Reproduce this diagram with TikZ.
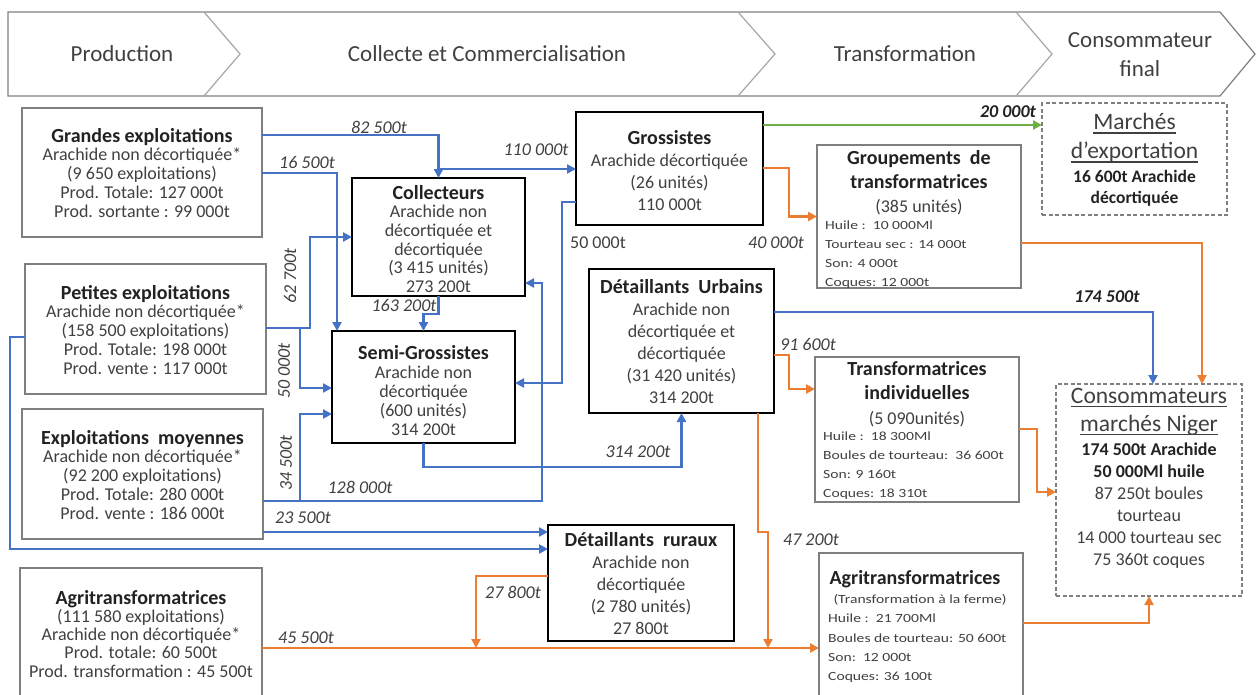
\documentclass[tikz,border=0pt]{standalone}
\usepackage{fontspec}
\setmainfont{Carlito}
\newfontfamily\widesmall{Carlito}[FakeStretch=1.25]
\usetikzlibrary{arrows.meta}
\definecolor{flowblue}{HTML}{4472C4}
\definecolor{floworange}{HTML}{ED7D31}
\definecolor{flowgreen}{HTML}{70AD47}
\definecolor{framegray}{HTML}{7F7F7F}
\definecolor{chevgray}{HTML}{A6A6A6}
\definecolor{txtgray}{HTML}{404040}
\definecolor{ttlgray}{HTML}{222222}
\newcommand\ttl{\fontsize{20}{21}\selectfont\bfseries\color{ttlgray}}
\newcommand\thickul[1]{\setbox0=\hbox{#1}\rlap{\rule[-4pt]{\wd0}{1.8pt}}\box0}
\begin{document}
\begin{tikzpicture}[x=1pt,y=-1pt,
  graybox/.style={draw=framegray, line width=1.5pt, inner sep=0pt, outer sep=0pt},
  blackbox/.style={draw=black, line width=2.6pt, inner sep=0pt, outer sep=0pt},
  dashbox/.style={draw=framegray, line width=1.2pt, dash pattern=on 4pt off 2.5pt, inner sep=0pt, outer sep=0pt},
  boxtext/.style={anchor=north, inner sep=0pt, align=center, text=txtgray, font=\fontsize{18}{18.7}\selectfont},
  listtext/.style={anchor=north west, inner sep=0pt, align=left, text=txtgray, font=\widesmall\fontsize{12.5}{18.8}\selectfont},
  headtext/.style={inner sep=0pt, align=center, text=txtgray, font=\fontsize{23}{29}\selectfont},
  flowlbl/.style={inner sep=0pt, text=txtgray, font=\fontsize{18}{20}\selectfont\itshape},
  flow/.style={line width=2.8pt, -{Triangle[length=9pt,width=9pt]}},
  bflow/.style={flow, draw=flowblue},
  oflow/.style={flow, draw=floworange},
  gflow/.style={flow, draw=flowgreen}
]
\useasboundingbox (0,0) rectangle (1258,694);
\clip (0,0) rectangle (1258,694);

% value-chain header band
\draw[framegray, line width=1.2pt] (8,12) -- (1220,12) -- (1255,54) -- (1220,96) -- (8,96) -- cycle;
\draw[chevgray, line width=1.2pt] (204,12) -- (240,54) -- (204,96);
\draw[chevgray, line width=1.2pt] (738,12) -- (775,54) -- (738,96);
\draw[chevgray, line width=1.2pt] (1016,12) -- (1052,54) -- (1016,96);
\node[headtext] (h1) at (122,54) {Production};
\node[headtext] (h2) at (487,54) {Collecte et Commercialisation};
\node[headtext] (h3) at (905,54) {Transformation};
\node[headtext] (h4) at (1140,55) {Consommateur\\final};

% producers
\node[graybox, minimum width=240pt, minimum height=129pt] (ge) at (142,172.5) {};
\node[boxtext] (ge-t) at (142,128) {{\ttl Grandes exploitations}\\Arachide non décortiquée*\\(9 650 exploitations)\\Prod. Totale: 127 000t\\Prod. sortante : 99 000t};
\node[graybox, minimum width=241pt, minimum height=130pt] (pe) at (145.5,329) {};
\node[boxtext] (pe-t) at (145.5,285) {{\ttl Petites exploitations}\\Arachide non décortiquée*\\(158 500 exploitations)\\Prod. Totale: 198 000t\\Prod. vente : 117 000t};
\node[graybox, minimum width=241pt, minimum height=130pt] (em) at (142.5,474) {};
\node[boxtext] (em-t) at (142.5,430) {{\ttl Exploitations\ \ moyennes}\\Arachide non décortiquée*\\(92 200 exploitations)\\Prod. Totale: 280 000t\\Prod. vente : 186 000t};
\node[graybox, minimum width=242pt, minimum height=152pt] (agl) at (141,644) {};
\node[boxtext, font=\fontsize{18}{18.2}\selectfont] (agl-t) at (141,590) {{\ttl Agritransformatrices}\\(111 580 exploitations)\\Arachide non décortiquée*\\Prod. totale: 60 500t\\Prod. transformation : 45 500t};

% collection and trade
\node[blackbox, minimum width=173pt, minimum height=118pt] (coll) at (438.5,237) {};
\node[boxtext, font=\fontsize{18}{18.6}\selectfont] (coll-t) at (438.5,185) {{\ttl Collecteurs}\\Arachide non\\décortiquée et\\décortiquée\\(3 415 unités)\\273 200t};
\node[blackbox, minimum width=183pt, minimum height=112pt] (sg) at (423.5,387) {};
\node[boxtext, font=\fontsize{18}{19}\selectfont] (sg-t) at (423.5,345) {{\ttl Semi-Grossistes}\\Arachide non\\décortiquée\\(600 unités)\\314 200t};
\node[blackbox, minimum width=187pt, minimum height=113pt] (gross) at (669.5,168.5) {};
\node[boxtext, font=\fontsize{18}{22}\selectfont] (gross-t) at (669.5,130) {{\ttl Grossistes}\\Arachide décortiquée\\(26 unités)\\110 000t};
\node[blackbox, minimum width=185pt, minimum height=144pt] (du) at (681.5,341) {};
\node[boxtext, font=\fontsize{18}{22}\selectfont] (du-t) at (681.5,279) {{\ttl Détaillants\ \ Urbains}\\Arachide non\\décortiquée et\\décortiquée\\(31 420 unités)\\314 200t};
\node[blackbox, minimum width=186pt, minimum height=116pt] (dr) at (641,583) {};
\node[boxtext, font=\fontsize{18}{22}\selectfont] (dr-t) at (641,532) {{\ttl Détaillants\ \ ruraux}\\Arachide non\\décortiquée\\(2 780 unités)\\27 800t};

% processing
\node[graybox, minimum width=204pt, minimum height=143pt] (gt) at (919,216.5) {};
\node[boxtext, font=\fontsize{18}{24}\selectfont] (gt-t) at (919,150) {{\ttl Groupements\ \ de}\\{\ttl transformatrices}\\(385 unités)};
\node[listtext] (gt-l) at (825,221) {Huile :\ \ 10 000Ml\\Tourteau sec : 14 000t\\Son: 4 000t\\Coques: 12 000t};
\node[graybox, minimum width=204pt, minimum height=145pt] (ti) at (917,429.5) {};
\node[boxtext, font=\fontsize{18}{24.5}\selectfont] (ti-t) at (917,361) {{\ttl Transformatrices}\\{\ttl individuelles}\\(5 090unités)};
\node[listtext] (ti-l) at (823,432) {Huile :\ \ 18 300Ml\\Boules de tourteau:\ \ 36 600t\\Son: 9 160t\\Coques: 18 310t};
\node[graybox, minimum width=204pt, minimum height=167pt] (agr) at (921,636.5) {};
\node[boxtext] (agr-t) at (915,570) {{\ttl Agritransformatrices}};
\node[inner sep=0pt, text=txtgray, font=\widesmall\fontsize{12.5}{14}\selectfont] (agr-s) at (920,600) {(Transformation à la ferme)};
\node[listtext, font=\widesmall\fontsize{12.5}{19.3}\selectfont] (agr-l) at (828,614) {Huile :\ \ 21 700Ml\\Boules de tourteau: 50 600t\\Son:\ \ 12 000t\\Coques: 36 100t};

% final markets
\node[dashbox, minimum width=185pt, minimum height=112pt] (me) at (1134.5,159) {};
\node[boxtext, font=\fontsize{23.5}{29}\selectfont] (me-t) at (1134.5,113) {\thickul{Marchés}\\\thickul{d’exportation}};
\node[boxtext, font=\fontsize{17.5}{21}\selectfont\bfseries, text=ttlgray] (me-b) at (1134.5,170.5) {16 600t Arachide\\décortiquée};
\node[dashbox, minimum width=186pt, minimum height=212pt] (cons) at (1149,490) {};
\node[boxtext, font=\fontsize{23.5}{28}\selectfont] (cons-t) at (1149,388) {\thickul{Consommateurs}\\\thickul{marchés Niger}};
\node[boxtext, font=\fontsize{18}{22}\selectfont] (cons-b) at (1149,443) {{\bfseries\color{ttlgray}174 500t Arachide}\\{\bfseries\color{ttlgray}50 000Ml huile}\\87 250t boules\\tourteau\\14 000 tourteau sec\\75 360t coques};

% blue flows
\draw[bflow] (ge.east |- 0,135) -| (coll.north);
\draw[bflow] (coll.north |- 0,169) -- (gross.west |- 0,169);
\draw[bflow] (ge.east |- 0,173) -| ([xshift=5pt]sg.north west);
\draw[bflow] (pe.east |- 0,328) -- (310,328) |- (coll.west);
\draw[bflow] (300,328) |- (sg.west |- 0,388);
\draw[bflow] (em.east |- 0,501) -- (542,501) |- (coll.east |- 0,283);
\draw[bflow] (300,501) |- (sg.west |- 0,414);
\draw[bflow] (coll.south) -- (438.5,314) -| (sg.north);
\draw[bflow] (gross.west |- 0,202) -- (562,202) |- (sg.east |- 0,383);
\draw[bflow] (sg.south) -- (423.5,467) -| (du.south);
\draw[bflow] (pe.west |- 0,337) -- (10,337) |- (dr.west |- 0,549);
\draw[bflow] (em.east |- 0,532) -- (dr.west |- 0,532);
\draw[bflow] (du.east |- 0,312) -| ([xshift=4pt]cons.north);

% green flow
\draw[gflow] (gross.east |- 0,125) -- (me.west |- 0,125);

% orange flows
\coordinate (m45) at (768,648);
\coordinate (m27) at (476,648);
\draw[oflow] (gross.east |- 0,168) -- (789,168) |- (gt.west);
\draw[oflow] (gt.east |- 0,243) -| ([xshift=53pt]cons.north);
\draw[oflow] (du.east |- 0,355) -- (789,355) |- (ti.west |- 0,389);
\draw[oflow] (ti.east |- 0,429) -- (1037,429) |- (cons.west |- 0,492);
\draw[oflow] (du.south -| 758,0) -- (758,532) -- (768,532) -- (m45);
\draw[oflow] (agl.east |- 0,648) -- (agr.west |- 0,648);
\draw[oflow] (dr.west |- 0,576) -- (476,576) -- (m27);
\draw[oflow] (agr.east |- 0,623) -| (cons.south);

% flow quantities
\node[flowlbl] (l1) at (379,127) {82 500t};
\node[flowlbl] (l2) at (536,150) {110 000t};
\node[flowlbl] (l3) at (307,162) {16 500t};
\node[flowlbl, rotate=90] (l4) at (290,276) {62 700t};
\node[flowlbl, rotate=90] (l5) at (284,371) {50 000t};
\node[flowlbl, rotate=90] (l6) at (286,463) {34 500t};
\node[flowlbl] (l7) at (360,487) {128 000t};
\node[flowlbl] (l8) at (303,518) {23 500t};
\node[flowlbl] (l9) at (404,305) {163 200t};
\node[flowlbl, font=\fontsize{18}{20}\selectfont] (l10) at (598,243) {50 000t};
\node[flowlbl] (l11) at (638,452) {314 200t};
\node[flowlbl, font=\fontsize{18}{20}\selectfont\bfseries\itshape, text=ttlgray] (l12) at (1107,297) {174 500t};
\node[flowlbl, font=\fontsize{18}{20}\selectfont\bfseries\itshape, text=ttlgray] (l13) at (1008,112) {20 000t};
\node[flowlbl] (l14) at (776,243) {40 000t};
\node[flowlbl] (l15) at (808,344) {91 600t};
\node[flowlbl] (l16) at (811,540) {47 200t};
\node[flowlbl] (l17) at (306,638) {45 500t};
\node[flowlbl] (l18) at (513,592) {27 800t};
\end{tikzpicture}
\end{document}
